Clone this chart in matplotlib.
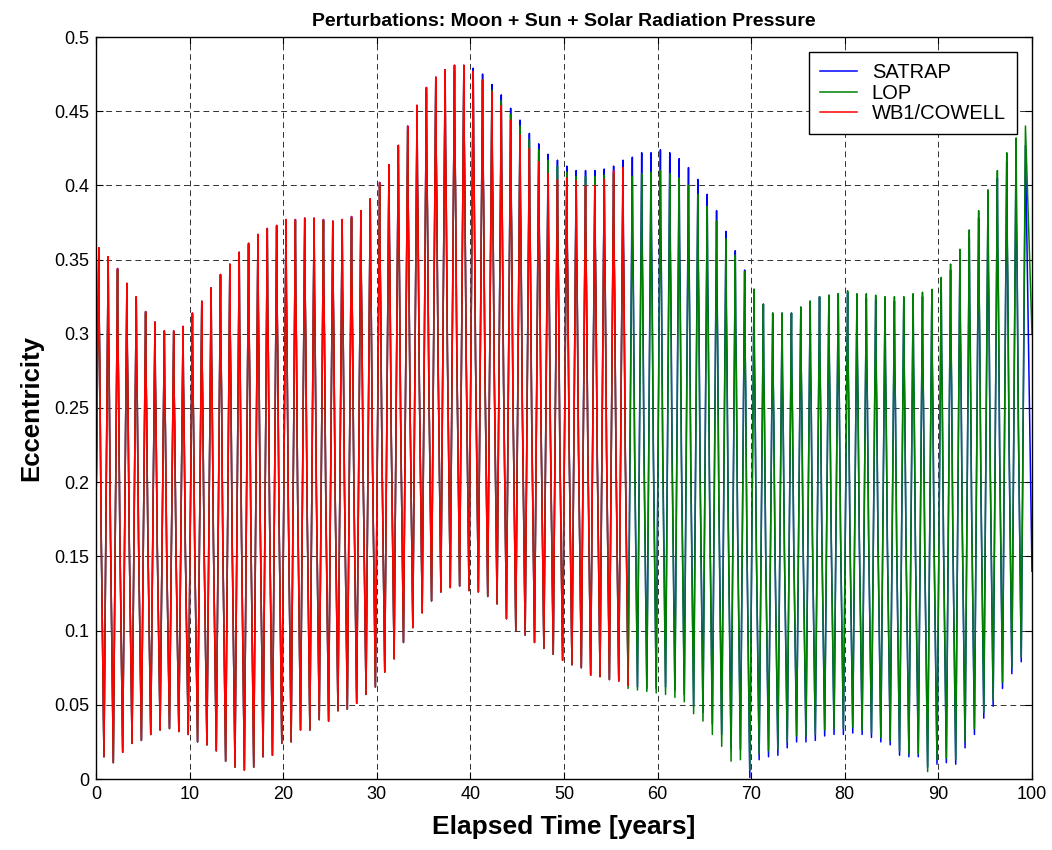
import numpy as np
import matplotlib
matplotlib.use("Agg")
import matplotlib.pyplot as plt

plt.rcParams['font.family'] = ['Liberation Sans', 'DejaVu Sans']

# one peak and one trough per year
PEAK_PHASE = 0.3      # peak at year k + 0.3
TROUGH_PHASE = 0.85   # trough at year k + 0.85
# shape of the fall from peak to trough: (time fraction, fraction of range)
DESCENT = [(0.08, 0.86), (0.2, 0.76), (0.45, 0.45), (0.75, 0.2)]

start_val = 0.18

satrap_peaks = [
    0.358, 0.352, 0.344, 0.334, 0.325, 0.315, 0.308, 0.302, 0.302, 0.305,
    0.314, 0.322, 0.331, 0.340, 0.347, 0.355, 0.361, 0.367, 0.371, 0.373,
    0.377, 0.377, 0.378, 0.378, 0.377, 0.376, 0.377, 0.379, 0.383, 0.391,
    0.402, 0.414, 0.427, 0.440, 0.454, 0.466, 0.473, 0.478, 0.481, 0.481,
    0.479, 0.475, 0.468, 0.461, 0.452, 0.444, 0.435, 0.428, 0.421, 0.417,
    0.413, 0.410, 0.410, 0.410, 0.411, 0.413, 0.417, 0.419, 0.422, 0.422,
    0.424, 0.422, 0.418, 0.412, 0.404, 0.394, 0.383, 0.369, 0.356, 0.343,
    0.330, 0.320, 0.314, 0.314, 0.314, 0.318, 0.322, 0.325, 0.326, 0.327,
    0.328, 0.325, 0.324, 0.323, 0.322, 0.322, 0.322, 0.324, 0.325, 0.327,
    0.334, 0.343, 0.353, 0.365, 0.378, 0.392, 0.405, 0.416, 0.426, 0.427]
satrap_troughs = [
    0.015, 0.011, 0.018, 0.024, 0.026, 0.030, 0.033, 0.034, 0.032, 0.030,
    0.025, 0.023, 0.019, 0.012, 0.008, 0.006, 0.008, 0.015, 0.016, 0.024,
    0.025, 0.033, 0.033, 0.040, 0.039, 0.046, 0.047, 0.051, 0.057, 0.062,
    0.072, 0.081, 0.092, 0.102, 0.112, 0.120, 0.126, 0.129, 0.130, 0.127,
    0.126, 0.123, 0.118, 0.108, 0.100, 0.097, 0.092, 0.088, 0.084, 0.080,
    0.077, 0.075, 0.070, 0.069, 0.067, 0.066, 0.063, 0.062, 0.061, 0.061,
    0.062, 0.060, 0.057, 0.050, 0.045, 0.037, 0.030, 0.021, 0.020, 0.001,
    0.013, 0.015, 0.016, 0.021, 0.025, 0.025, 0.026, 0.029, 0.030, 0.030,
    0.031, 0.030, 0.028, 0.025, 0.023, 0.016, 0.015, 0.015, 0.008, 0.010,
    0.011, 0.010, 0.021, 0.030, 0.041, 0.049, 0.061, 0.071, 0.079]
satrap_end = 0.14

lop_peaks = [
    0.357, 0.351, 0.343, 0.333, 0.324, 0.314, 0.307, 0.301, 0.301, 0.304,
    0.313, 0.321, 0.330, 0.339, 0.346, 0.354, 0.360, 0.366, 0.370, 0.372,
    0.376, 0.376, 0.377, 0.377, 0.376, 0.375, 0.376, 0.378, 0.382, 0.389,
    0.400, 0.412, 0.424, 0.437, 0.450, 0.462, 0.469, 0.474, 0.477, 0.477,
    0.475, 0.471, 0.464, 0.457, 0.448, 0.440, 0.431, 0.424, 0.417, 0.413,
    0.409, 0.406, 0.406, 0.406, 0.407, 0.408, 0.406, 0.406, 0.408, 0.409,
    0.410, 0.408, 0.405, 0.400, 0.394, 0.386, 0.376, 0.364, 0.353, 0.342,
    0.330, 0.320, 0.314, 0.314, 0.314, 0.318, 0.322, 0.325, 0.326, 0.327,
    0.329, 0.327, 0.327, 0.326, 0.325, 0.325, 0.325, 0.327, 0.328, 0.330,
    0.338, 0.347, 0.357, 0.370, 0.383, 0.397, 0.410, 0.422, 0.432, 0.440]
lop_troughs = [
    0.015, 0.011, 0.018, 0.024, 0.026, 0.030, 0.033, 0.034, 0.032, 0.030,
    0.025, 0.023, 0.019, 0.012, 0.008, 0.006, 0.008, 0.015, 0.016, 0.024,
    0.025, 0.033, 0.033, 0.040, 0.039, 0.046, 0.047, 0.051, 0.057, 0.062,
    0.072, 0.081, 0.092, 0.102, 0.112, 0.120, 0.126, 0.129, 0.130, 0.127,
    0.126, 0.123, 0.118, 0.108, 0.100, 0.097, 0.092, 0.088, 0.084, 0.080,
    0.077, 0.075, 0.070, 0.069, 0.067, 0.066, 0.061, 0.060, 0.059, 0.058,
    0.057, 0.055, 0.052, 0.044, 0.039, 0.030, 0.022, 0.012, 0.013, 0.006,
    0.017, 0.019, 0.020, 0.025, 0.029, 0.029, 0.030, 0.033, 0.034, 0.034,
    0.035, 0.033, 0.031, 0.028, 0.026, 0.019, 0.017, 0.017, 0.005, 0.013,
    0.014, 0.013, 0.025, 0.034, 0.045, 0.053, 0.065, 0.075, 0.082]
lop_end = 0.30

cowell_peaks = [
    0.358, 0.352, 0.344, 0.334, 0.325, 0.315, 0.308, 0.302, 0.302, 0.305,
    0.314, 0.322, 0.331, 0.340, 0.347, 0.355, 0.361, 0.367, 0.371, 0.373,
    0.377, 0.377, 0.378, 0.378, 0.377, 0.376, 0.377, 0.379, 0.383, 0.391,
    0.402, 0.414, 0.427, 0.440, 0.454, 0.466, 0.473, 0.478, 0.481, 0.481,
    0.477, 0.471, 0.463, 0.454, 0.444, 0.434, 0.425, 0.416, 0.408, 0.404,
    0.405, 0.403, 0.400, 0.400, 0.404, 0.410, 0.412]
cowell_troughs = [
    0.015, 0.011, 0.018, 0.024, 0.026, 0.030, 0.033, 0.034, 0.032, 0.030,
    0.025, 0.023, 0.019, 0.012, 0.008, 0.006, 0.008, 0.015, 0.016, 0.024,
    0.025, 0.033, 0.033, 0.040, 0.039, 0.046, 0.047, 0.051, 0.057, 0.062,
    0.072, 0.081, 0.092, 0.102, 0.112, 0.120, 0.126, 0.129, 0.130, 0.127,
    0.126, 0.123, 0.118, 0.108, 0.100, 0.097, 0.092, 0.088, 0.084, 0.080,
    0.077, 0.075, 0.070, 0.069, 0.067, 0.066, 0.063]


def build_curve(peaks, troughs, end_val=None, t_end=100.0):
    t = [0.0]
    v = [start_val]
    for k, p in enumerate(peaks):
        tp = k + PEAK_PHASE
        t.append(tp)
        v.append(p)
        if k < len(troughs):
            tr = troughs[k]
            tt = k + TROUGH_PHASE
            for ft, fv in DESCENT:
                t.append(tp + ft * (tt - tp))
                v.append(tr + fv * (p - tr))
            t.append(tt)
            v.append(tr)
    if end_val is not None:
        t.append(t_end)
        v.append(end_val)
    return np.array(t), np.array(v)


fig = plt.figure(figsize=(10.52, 8.5), dpi=100)
ax = fig.add_axes([96 / 1052, 71 / 850, 936 / 1052, 742 / 850])

t1, v1 = build_curve(satrap_peaks, satrap_troughs, satrap_end)
t2, v2 = build_curve(lop_peaks, lop_troughs, lop_end)
t3, v3 = build_curve(cowell_peaks, cowell_troughs)

ax.plot(t1, v1, color='#0000ff', lw=1.1, label='SATRAP')
ax.plot(t2, v2, color='#008000', lw=1.1, label='LOP')
ax.plot(t3, v3, color='#ff0000', lw=1.1, label='WB1/COWELL')

ax.set_xlim(0, 100)
ax.set_ylim(0, 0.5)
ax.set_xticks(np.arange(0, 101, 10))
ax.set_yticks(np.arange(0, 0.51, 0.05))
ax.set_yticklabels(['0', '0.05', '0.1', '0.15', '0.2', '0.25', '0.3',
                    '0.35', '0.4', '0.45', '0.5'])
ax.tick_params(direction='in', top=True, right=True, length=5,
               labelsize=13, pad=5)
ax.grid(True, color='#303030', ls=(0, (6, 4)), lw=0.7)
for s in ax.spines.values():
    s.set_linewidth(1.0)

ax.set_title('Perturbations: Moon + Sun + Solar Radiation Pressure',
             fontsize=14, fontweight='bold', pad=8)
ax.set_xlabel('Elapsed Time [years]', fontsize=19, fontweight='bold',
              labelpad=9)
ax.set_ylabel('Eccentricity', fontsize=18.5, fontweight='bold', labelpad=8)

leg = ax.legend(loc='upper right', fontsize=14.5, fancybox=False,
                edgecolor='black', framealpha=1, borderaxespad=0.75,
                handlelength=1.8, handletextpad=0.75, labelspacing=0.08,
                borderpad=0.55)
leg.get_frame().set_linewidth(1.0)

fig.savefig('out.png', dpi=100)
